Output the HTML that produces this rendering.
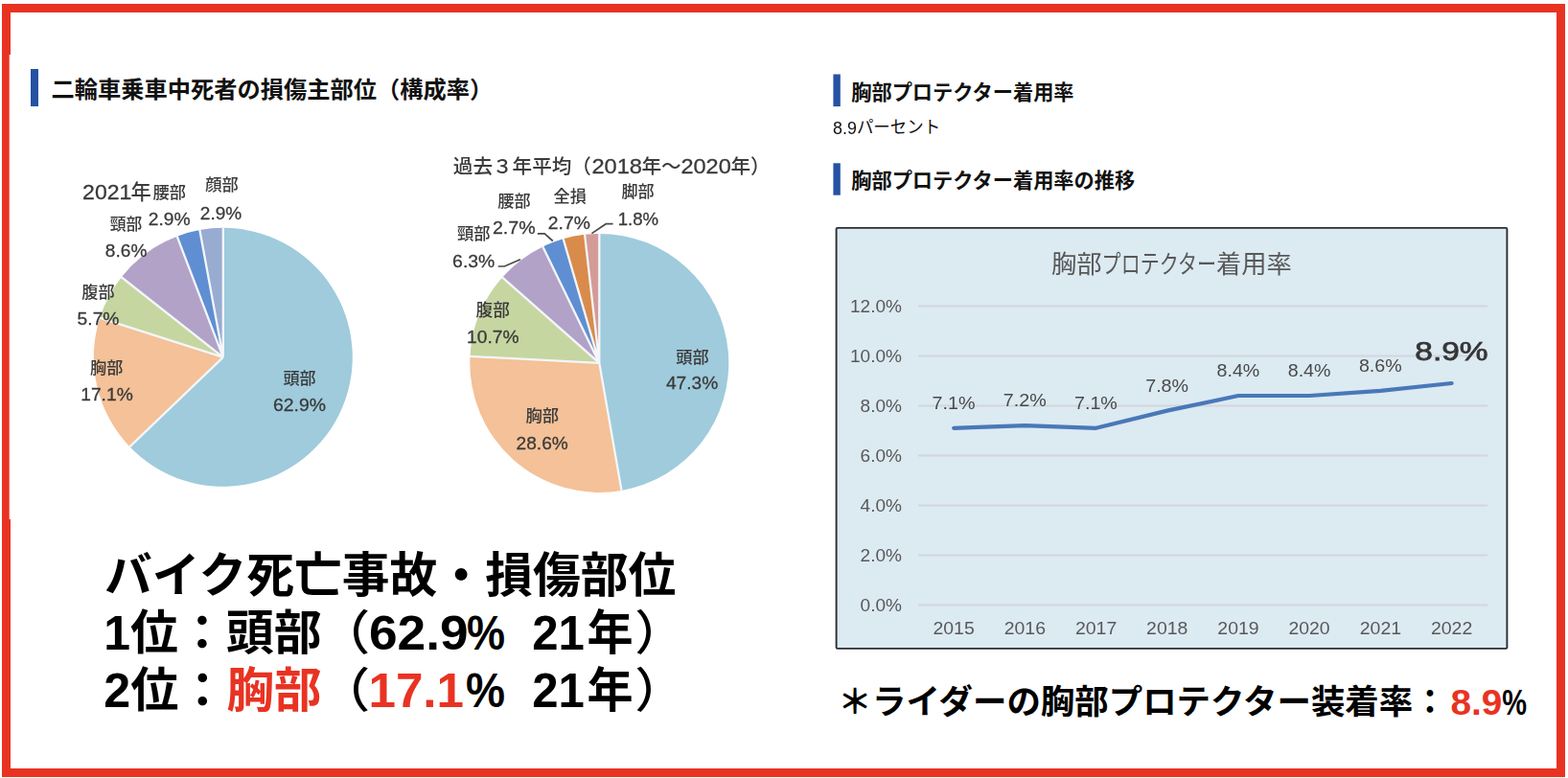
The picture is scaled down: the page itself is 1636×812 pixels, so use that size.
<!DOCTYPE html><html lang="ja"><head><meta charset="utf-8"><title>バイク死亡事故・損傷部位 / 胸部プロテクター着用率</title><style>html,body{margin:0;padding:0;background:#fff;}body{width:1636px;height:812px;overflow:hidden;font-family:"Liberation Sans",sans-serif;}svg{display:block;}</style></head><body><svg width="1636" height="812" viewBox="0 0 1636 812" font-family="'Liberation Sans', 'Noto Sans CJK JP', sans-serif"><defs><filter id="nf"><feOffset dx="0" dy="0"/></filter><filter id="bl" x="-2%" y="-2%" width="104%" height="104%"><feGaussianBlur stdDeviation="0.55"/></filter><filter id="bl2" x="-2%" y="-2%" width="104%" height="104%"><feGaussianBlur stdDeviation="0.45"/></filter></defs><rect x="0" y="0" width="1636" height="812" fill="#fff"/><rect x="6.5" y="8.5" width="1622" height="798" fill="none" stroke="#e83323" stroke-width="9"/><rect x="9.7" y="57" width="2" height="485" fill="#fff"/><rect x="32" y="72" width="8" height="39" fill="#2652a4"/><text x="53.4" y="101.7" font-size="24.25" font-weight="bold" fill="#111">二輪車乗車中死者の損傷主部位（構成率）</text><g filter="url(#bl)"><path d="M232.8 372.8L232.8 237.8A135 135 0 1 1 135.34 466.22Z" fill="#9fcbdc"/><path d="M232.8 372.8L135.34 466.22A135 135 0 0 1 104.2 331.73Z" fill="#f4c198"/><path d="M232.8 372.8L104.2 331.73A135 135 0 0 1 126.73 289.29Z" fill="#c6d6a1"/><path d="M232.8 372.8L126.73 289.29A135 135 0 0 1 184.73 246.65Z" fill="#b2a2c8"/><path d="M232.8 372.8L184.73 246.65A135 135 0 0 1 208.36 240.03Z" fill="#5f8fd2"/><path d="M232.8 372.8L208.36 240.03A135 135 0 0 1 232.8 237.8Z" fill="#98abd1"/><path d="M232.8 372.8L232.8 237.3M232.8 372.8L134.98 466.56M232.8 372.8L103.72 331.58M232.8 372.8L126.33 288.98M232.8 372.8L184.55 246.18M232.8 372.8L208.27 239.54" stroke="#f3f6fa" stroke-width="2.3" fill="none" stroke-linecap="butt"/><path d="M625.3 378.9L625.3 243.9A135 135 0 0 1 648.49 511.89Z" fill="#9fcbdc"/><path d="M625.3 378.9L648.49 511.89A135 135 0 0 1 490.48 371.91Z" fill="#f4c198"/><path d="M625.3 378.9L490.48 371.91A135 135 0 0 1 524.11 289.54Z" fill="#c6d6a1"/><path d="M625.3 378.9L524.11 289.54A135 135 0 0 1 566.34 257.45Z" fill="#b2a2c8"/><path d="M625.3 378.9L566.34 257.45A135 135 0 0 1 587.67 249.25Z" fill="#5f8fd2"/><path d="M625.3 378.9L587.67 249.25A135 135 0 0 1 610.08 244.76Z" fill="#d98b4b"/><path d="M625.3 378.9L610.08 244.76A135 135 0 0 1 625.3 243.9Z" fill="#d39b98"/><path d="M625.3 378.9L625.3 243.4M625.3 378.9L648.57 512.39M625.3 378.9L489.98 371.89M625.3 378.9L523.74 289.21M625.3 378.9L566.13 257M625.3 378.9L587.53 248.77M625.3 378.9L610.02 244.26" stroke="#f3f6fa" stroke-width="2.3" fill="none" stroke-linecap="butt"/><text x="86.14" y="207.6" font-size="21.4" fill="#3a3a3a" stroke="#3a3a3a" stroke-width="0.3" textLength="51.18" lengthAdjust="spacingAndGlyphs">2021</text><text x="136.47" y="208.32" font-size="21.25" font-weight="500" fill="#3a3a3a">年</text><text x="159.52" y="206.83" font-size="17.23" font-weight="500" fill="#3a3a3a">腰部</text><text x="214.27" y="199.44" font-size="17.25" font-weight="500" fill="#3a3a3a">顔部</text><text x="114.65" y="239.95" font-size="16.75" font-weight="500" fill="#3a3a3a">頸部</text><text x="85.22" y="311.28" font-size="17.17" font-weight="500" fill="#3a3a3a">腹部</text><text x="94.12" y="389.92" font-size="17.17" font-weight="500" fill="#3a3a3a">胸部</text><text x="295.42" y="401.18" font-size="17.07" font-weight="500" fill="#3a3a3a">頭部</text><text x="208.84" y="228.6" font-size="17.8" fill="#3a3a3a" stroke="#3a3a3a" stroke-width="0.28" textLength="43.33" lengthAdjust="spacingAndGlyphs">2.9%</text><text x="154.73" y="235.2" font-size="17.8" fill="#3a3a3a" stroke="#3a3a3a" stroke-width="0.28" textLength="43.85" lengthAdjust="spacingAndGlyphs">2.9%</text><text x="109.87" y="267.9" font-size="17.8" fill="#3a3a3a" stroke="#3a3a3a" stroke-width="0.28" textLength="43.51" lengthAdjust="spacingAndGlyphs">8.6%</text><text x="80.63" y="338.8" font-size="17.8" fill="#3a3a3a" stroke="#3a3a3a" stroke-width="0.28" textLength="43.86" lengthAdjust="spacingAndGlyphs">5.7%</text><text x="84.23" y="418.1" font-size="17.8" fill="#3a3a3a" stroke="#3a3a3a" stroke-width="0.28" textLength="54.55" lengthAdjust="spacingAndGlyphs">17.1%</text><text x="284.91" y="429.2" font-size="17.8" fill="#3a3a3a" stroke="#3a3a3a" stroke-width="0.28" textLength="55.08" lengthAdjust="spacingAndGlyphs">62.9%</text><text x="472.8" y="181.2" font-size="20.6" font-weight="500" fill="#3a3a3a">過去３年平均（</text><text x="617.41" y="180.8" font-size="21.4" fill="#3a3a3a" stroke="#3a3a3a" stroke-width="0.3" textLength="52.62" lengthAdjust="spacingAndGlyphs">2018</text><text x="669.5" y="181.2" font-size="20.6" font-weight="500" fill="#3a3a3a">年～</text><text x="710.42" y="180.8" font-size="21.4" fill="#3a3a3a" stroke="#3a3a3a" stroke-width="0.3" textLength="52.4" lengthAdjust="spacingAndGlyphs">2020</text><text x="762.5" y="181.2" font-size="20.6" font-weight="500" fill="#3a3a3a">年）</text><text x="519.22" y="215.81" font-size="17.17" font-weight="500" fill="#3a3a3a">腰部</text><text x="577.49" y="210.92" font-size="17.15" font-weight="500" fill="#3a3a3a">全損</text><text x="648.5" y="205.75" font-size="17.13" font-weight="500" fill="#3a3a3a">脚部</text><text x="477.03" y="250.34" font-size="17.27" font-weight="500" fill="#3a3a3a">頸部</text><text x="496.51" y="329.65" font-size="17.64" font-weight="500" fill="#3a3a3a">腹部</text><text x="705.22" y="378.72" font-size="17.18" font-weight="500" fill="#3a3a3a">頭部</text><text x="548.51" y="440.08" font-size="17.33" font-weight="500" fill="#3a3a3a">胸部</text><text x="644.78" y="234.6" font-size="17.8" fill="#3a3a3a" stroke="#3a3a3a" stroke-width="0.28" textLength="42.38" lengthAdjust="spacingAndGlyphs">1.8%</text><text x="571.83" y="238.7" font-size="17.8" fill="#3a3a3a" stroke="#3a3a3a" stroke-width="0.28" textLength="43.96" lengthAdjust="spacingAndGlyphs">2.7%</text><text x="513.91" y="244.4" font-size="17.8" fill="#3a3a3a" stroke="#3a3a3a" stroke-width="0.28" textLength="44.68" lengthAdjust="spacingAndGlyphs">2.7%</text><text x="472.12" y="278.9" font-size="17.8" fill="#3a3a3a" stroke="#3a3a3a" stroke-width="0.28" textLength="44.18" lengthAdjust="spacingAndGlyphs">6.3%</text><text x="487.14" y="357.6" font-size="17.8" fill="#3a3a3a" stroke="#3a3a3a" stroke-width="0.28" textLength="54.34" lengthAdjust="spacingAndGlyphs">10.7%</text><text x="694.96" y="406.4" font-size="17.8" fill="#3a3a3a" stroke="#3a3a3a" stroke-width="0.28" textLength="54.22" lengthAdjust="spacingAndGlyphs">47.3%</text><text x="538.64" y="468.7" font-size="17.8" fill="#3a3a3a" stroke="#3a3a3a" stroke-width="0.28" textLength="54.14" lengthAdjust="spacingAndGlyphs">28.6%</text><path d="M639.6 233.7H632.2L617.4 243.6M560.8 243.8H568.2L576.8 251.5M519.7 278H526.3L543 270.7" stroke="#4a4a4a" stroke-width="1.7" fill="none"/></g><text x="109" y="617.6" font-size="49.78" font-weight="bold" fill="#000">バイク死亡事故・損傷部位</text><text x="108.3" y="677.7" font-size="49.5" font-weight="bold" fill="#000" textLength="227.2" lengthAdjust="spacingAndGlyphs">1位：頭部</text><text x="332.32" y="677.7" font-size="49.5" font-weight="500" fill="#000" textLength="54" lengthAdjust="spacingAndGlyphs">（</text><text x="384.93" y="677.7" font-size="49.5" font-weight="bold" fill="#000" textLength="103.6" lengthAdjust="spacingAndGlyphs">62.9</text><text x="486.98" y="677.7" font-size="49.5" font-weight="bold" fill="#000" textLength="40" lengthAdjust="spacingAndGlyphs">%</text><text x="555.28" y="677.7" font-size="49.5" font-weight="bold" fill="#000" textLength="54.6" lengthAdjust="spacingAndGlyphs">21</text><text x="612.62" y="677.7" font-size="49.5" font-weight="bold" fill="#000" textLength="48.1" lengthAdjust="spacingAndGlyphs">年</text><text x="662.24" y="677.7" font-size="49.5" font-weight="500" fill="#000" textLength="52.5" lengthAdjust="spacingAndGlyphs">）</text><text x="108.3" y="737.9" font-size="49.5" font-weight="bold" fill="#000" textLength="128.2" lengthAdjust="spacingAndGlyphs">2位：</text><text x="236.5" y="737.9" font-size="49.5" font-weight="bold" fill="#e83323">胸部</text><text x="332.32" y="737.9" font-size="49.5" font-weight="500" fill="#000" textLength="54" lengthAdjust="spacingAndGlyphs">（</text><text x="384.51" y="737.9" font-size="49.5" font-weight="bold" fill="#e83323" textLength="99.5" lengthAdjust="spacingAndGlyphs">17.1</text><text x="485.94" y="737.9" font-size="49.5" font-weight="bold" fill="#000" textLength="41" lengthAdjust="spacingAndGlyphs">%</text><text x="555.28" y="737.9" font-size="49.5" font-weight="bold" fill="#000" textLength="54.6" lengthAdjust="spacingAndGlyphs">21</text><text x="612.62" y="737.9" font-size="49.5" font-weight="bold" fill="#000" textLength="48.1" lengthAdjust="spacingAndGlyphs">年</text><text x="662.24" y="737.9" font-size="49.5" font-weight="500" fill="#000" textLength="52.5" lengthAdjust="spacingAndGlyphs">）</text><rect x="869.4" y="77.5" width="7.4" height="33.6" fill="#2652a4"/><text x="888.3" y="103.5" font-size="21.2" font-weight="bold" fill="#111">胸部プロテクター着用率</text><g filter="url(#nf)"><text x="869.12" y="139.7" font-size="18" fill="#111" textLength="24.82" lengthAdjust="spacingAndGlyphs">8.9</text></g><text x="893.88" y="139.2" font-size="18" fill="#111" textLength="87.2" lengthAdjust="spacingAndGlyphs">パーセント</text><rect x="869.4" y="170.3" width="7.4" height="33.4" fill="#2652a4"/><text x="888.3" y="195.5" font-size="21.2" font-weight="bold" fill="#111">胸部プロテクター着用率の推移</text><g filter="url(#bl2)"><rect x="872.6" y="237.9" width="699.8" height="439" rx="1.2" fill="#dceaf2" stroke="#2b2f31" stroke-width="1.9"/><path d="M958 631.4H1552" stroke="#d2d5de" stroke-width="2"/><text x="897.57" y="638" font-size="19" fill="#595959">0.0%</text><path d="M958 579.4H1552" stroke="#d2d5de" stroke-width="2"/><text x="897.57" y="586" font-size="19" fill="#595959">2.0%</text><path d="M958 527.4H1552" stroke="#d2d5de" stroke-width="2"/><text x="897.57" y="534" font-size="19" fill="#595959">4.0%</text><path d="M958 475.4H1552" stroke="#d2d5de" stroke-width="2"/><text x="897.57" y="482" font-size="19" fill="#595959">6.0%</text><path d="M958 423.4H1552" stroke="#d2d5de" stroke-width="2"/><text x="897.57" y="430" font-size="19" fill="#595959">8.0%</text><path d="M958 371.4H1552" stroke="#d2d5de" stroke-width="2"/><text x="887" y="378" font-size="19" fill="#595959">10.0%</text><path d="M958 319.4H1552" stroke="#d2d5de" stroke-width="2"/><text x="887" y="326" font-size="19" fill="#595959">12.0%</text><text x="1097" y="284.9" font-size="26.3" fill="#595959">胸部</text><text x="1149.6" y="284.9" font-size="26.3" fill="#595959" textLength="119.4" lengthAdjust="spacingAndGlyphs">プロテクター</text><text x="1269" y="284.9" font-size="26.3" fill="#595959">着用率</text><polyline points="995.2,446.8 1069.4,444.2 1143.6,446.8 1217.8,428.6 1292,413 1366.2,413 1440.4,407.8 1514.6,400" fill="none" stroke="#4a78b8" stroke-width="4.2" stroke-linejoin="round" stroke-linecap="round"/><text x="973.52" y="662" font-size="19" fill="#595959" textLength="43.19" lengthAdjust="spacingAndGlyphs">2015</text><text x="1047.72" y="662" font-size="19" fill="#595959" textLength="43.23" lengthAdjust="spacingAndGlyphs">2016</text><text x="1121.92" y="662" font-size="19" fill="#595959" textLength="43.36" lengthAdjust="spacingAndGlyphs">2017</text><text x="1196.12" y="662" font-size="19" fill="#595959" textLength="43.22" lengthAdjust="spacingAndGlyphs">2018</text><text x="1270.32" y="662" font-size="19" fill="#595959" textLength="43.3" lengthAdjust="spacingAndGlyphs">2019</text><text x="1344.52" y="662" font-size="19" fill="#595959" textLength="43.13" lengthAdjust="spacingAndGlyphs">2020</text><text x="1418.72" y="662" font-size="19" fill="#595959" textLength="43.33" lengthAdjust="spacingAndGlyphs">2021</text><text x="1492.92" y="662" font-size="19" fill="#595959" textLength="43.36" lengthAdjust="spacingAndGlyphs">2022</text><text x="972.59" y="426.6" font-size="19" fill="#4a4a4a" textLength="44.91" lengthAdjust="spacingAndGlyphs">7.1%</text><text x="1046.79" y="424.3" font-size="19" fill="#4a4a4a" textLength="44.91" lengthAdjust="spacingAndGlyphs">7.2%</text><text x="1120.99" y="426.6" font-size="19" fill="#4a4a4a" textLength="44.91" lengthAdjust="spacingAndGlyphs">7.1%</text><text x="1195.19" y="408.9" font-size="19" fill="#4a4a4a" textLength="44.91" lengthAdjust="spacingAndGlyphs">7.8%</text><text x="1269.55" y="392.8" font-size="19" fill="#4a4a4a" textLength="44.75" lengthAdjust="spacingAndGlyphs">8.4%</text><text x="1343.75" y="392.8" font-size="19" fill="#4a4a4a" textLength="44.75" lengthAdjust="spacingAndGlyphs">8.4%</text><text x="1417.95" y="388.3" font-size="19" fill="#4a4a4a" textLength="44.75" lengthAdjust="spacingAndGlyphs">8.6%</text><text x="1476.35" y="376" font-size="27.2" fill="#363636" stroke="#363636" stroke-width="0.75" textLength="76.25" lengthAdjust="spacingAndGlyphs">8.9%</text></g><text x="874.3" y="745.4" font-size="35.45" font-weight="bold" fill="#000">＊</text><text x="910.05" y="745.4" font-size="35.45" font-weight="bold" fill="#000">ライダーの胸部プロテクター装着率：</text><text x="1513.52" y="745.6" font-size="37.22" font-weight="bold" fill="#e83323" textLength="53.9" lengthAdjust="spacingAndGlyphs">8.9</text><text x="1567.34" y="745.6" font-size="37.22" font-weight="bold" fill="#000" textLength="25.8" lengthAdjust="spacingAndGlyphs">%</text></svg></body></html>
